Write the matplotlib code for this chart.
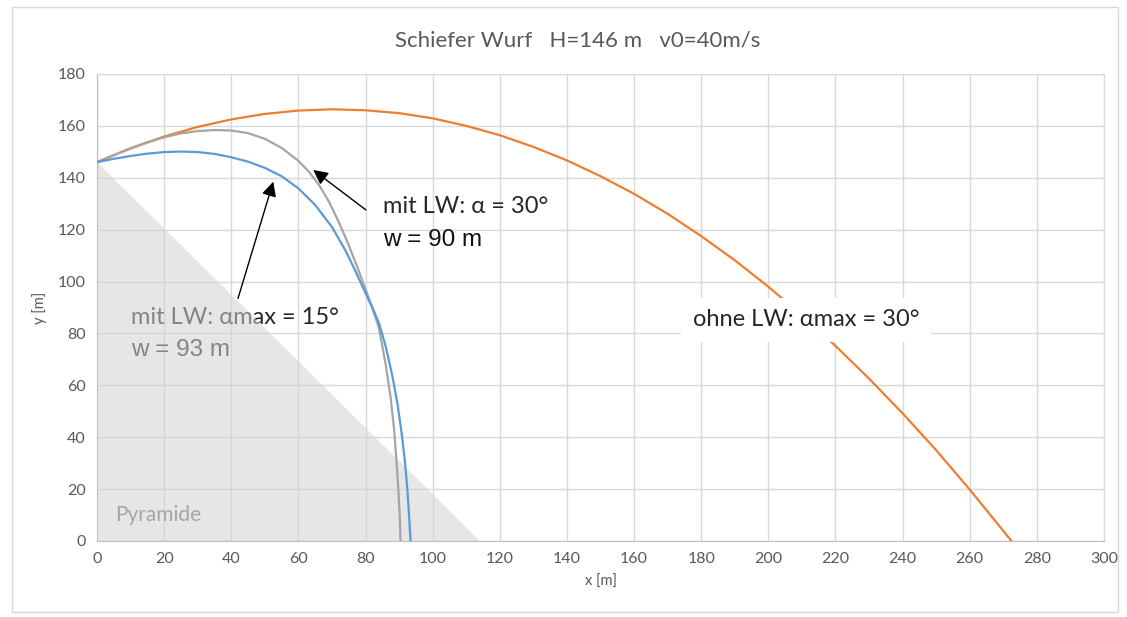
import matplotlib.pyplot as plt
from matplotlib.patches import Polygon, Rectangle

# Schiefer Wurf von der Pyramide, H=146 m, v0=40 m/s
# Werte

# ohne Luftwiderstand, alpha = 30 deg
x_ohne = [0, 10, 20, 30, 40, 50, 60, 70, 80, 90, 100, 110, 120, 130, 140, 150, 160, 170, 180,
          190, 200, 210, 220, 230, 240, 250, 260, 270, 272.4]
y_ohne = [146, 151.4, 155.9, 159.6, 162.5, 164.6, 165.9, 166.4, 166.0, 164.9, 162.9, 160.0,
          156.4, 151.9, 146.7, 140.6, 133.8, 126.1, 117.5, 108.2, 98.0, 87.0, 75.2, 62.6,
          49.2, 35.0, 19.8, 3.9, 0]

# mit Luftwiderstand, alpha = 30 deg  (w = 90 m)
x_lw30 = [0, 5, 10, 15, 20, 25, 30, 35, 40, 45, 50, 55, 60, 63, 66, 69, 72, 75, 78, 80,
          82, 84, 86, 87.5, 88.5, 89.2, 89.8, 90.2, 90.4]
y_lw30 = [146, 148.7, 151.2, 153.6, 155.6, 157.1, 158.0, 158.4, 158.2, 157.2, 155, 151.5,
          146.5, 142.5, 137.5, 131, 123, 114, 104, 97, 90, 82, 68, 55, 43, 31, 19, 9, 0]

# mit Luftwiderstand, alpha max = 15 deg  (w = 93 m)
x_lw15 = [0, 5, 10, 15, 20, 25, 30, 35, 40, 45, 50, 55, 60, 65, 70, 74, 77, 80, 82, 84,
          86, 88, 89.5, 90.8, 91.7, 92.5, 93, 93.4]
y_lw15 = [146, 147.3, 148.4, 149.3, 149.9, 150.1, 149.9, 149.2, 147.9, 146.2, 143.8, 140.6,
          135.9, 129.5, 121, 112, 104, 95.5, 90, 84, 75, 63.5, 53, 41, 31, 19, 9, 0]

# Pyramide (Querschnitt)
pyr_x = [0, 0, 114]
pyr_y = [146, 0, 0]

xticks = list(range(0, 301, 20))
yticks = list(range(0, 181, 20))

fig = plt.figure(figsize=(11.27, 6.17), dpi=100)
ax = fig.add_axes([0.0861, 0.1232, 0.8935, 0.7569])

# Rahmen des Diagrammbereichs
fig.patches.append(Rectangle((0.011, 0.008), 0.981, 0.98, transform=fig.transFigure,
                             fill=False, edgecolor='#d9d9d9', lw=1))

ax.plot(x_ohne, y_ohne, color='#ED7D31', lw=1.6, zorder=3)
ax.plot(x_lw30, y_lw30, color='#A5A5A5', lw=1.6, zorder=3)
ax.plot(x_lw15, y_lw15, color='#5B9BD5', lw=1.6, zorder=3)

# Pyramide halbtransparent ueber dem Text (wie im Original)
ax.add_patch(Polygon(list(zip(pyr_x, pyr_y)), closed=True, facecolor='#d2d2d2',
                     edgecolor='none', alpha=0.55, zorder=2))

calibri = ['Lato', 'DejaVu Sans']
arial = ['Liberation Sans', 'DejaVu Sans']

ax.text(5.4, 10, 'Pyramide', fontsize=15, color='#a6a6a6', family=calibri, va='center', zorder=2.5)

ax.text(10.1, 86, 'mit LW: \u03b1max = 15\u00b0', fontsize=17, family=calibri, color='#262626',
        va='center', zorder=1)
ax.text(10.1, 73.6, 'w = 93 m', fontsize=17.5, family=arial, color='#262626', va='center', zorder=1)

ax.text(85.2, 128.8, 'mit LW: \u03b1 = 30\u00b0', fontsize=17, family=calibri, color='#262626',
        va='center', zorder=4)
ax.text(85.2, 116, 'w = 90 m', fontsize=17.5, family=arial, color='#111111', va='center', zorder=4)

ax.text(177.5, 85.2, 'ohne LW: \u03b1max = 30\u00b0', fontsize=17, family=calibri, color='#262626',
        va='center', zorder=4,
        bbox=dict(boxstyle='square,pad=0.5', facecolor='white', edgecolor='none'))

arrow = dict(arrowstyle='-|>', color='black', lw=1, mutation_scale=22, shrinkA=0, shrinkB=0)
ax.annotate('', xy=(64.4, 143), xytext=(80.1, 127.6), arrowprops=arrow, zorder=5)
ax.annotate('', xy=(52.5, 138.5), xytext=(42, 93.5), arrowprops=arrow, zorder=5)

ax.set_xlim(0, 300)
ax.set_ylim(0, 180)
ax.set_xticks(xticks)
ax.set_yticks(yticks)
ax.grid(True, color='#d9d9d9', lw=1)
ax.set_axisbelow(True)
for s in ax.spines.values():
    s.set_color('#d9d9d9')
ax.spines['bottom'].set_color('#bfbfbf')
ax.spines['left'].set_color('#bfbfbf')
ax.tick_params(length=0, labelsize=11.5, labelcolor='#595959', pad=8)
for lab in ax.get_xticklabels() + ax.get_yticklabels():
    lab.set_family(calibri)

ax.set_xlabel('x [m]', fontsize=10.5, color='#595959', family=calibri, labelpad=6)
ax.set_ylabel('y [m]', fontsize=10.5, color='#595959', family=calibri, labelpad=8)
fig.text(0.513, 0.935, 'Schiefer Wurf   H=146 m   v0=40m/s', ha='center', va='center',
         fontsize=16, color='#595959', family=calibri)

fig.savefig('out.png', dpi=100)
